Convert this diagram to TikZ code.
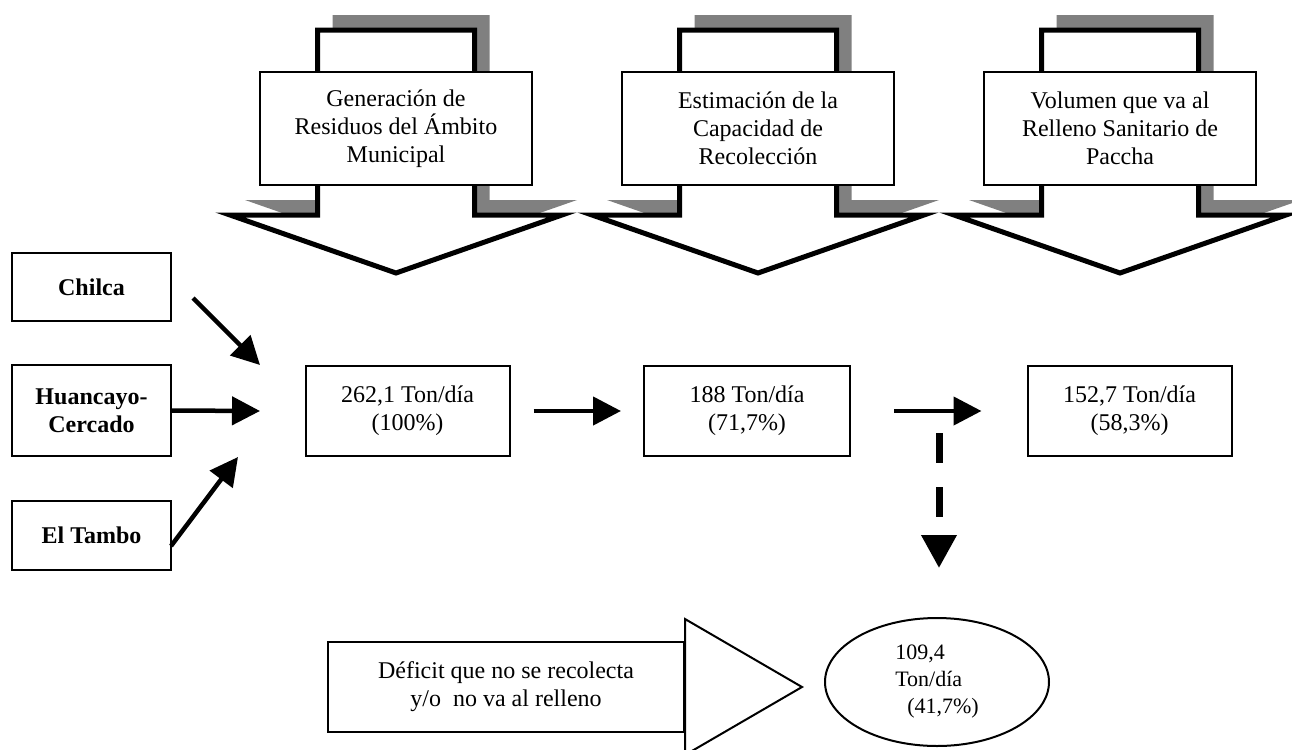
\documentclass[tikz,border=0pt]{standalone}
\usepackage{fontspec}
\setmainfont{Liberation Serif}
\usetikzlibrary{arrows.meta,shapes.geometric}
\definecolor{SombraGris}{rgb}{0.5,0.5,0.5}

\begin{document}
\begin{tikzpicture}[x=0.5pt,y=-0.5pt,font=\fontsize{12}{14}\selectfont,
  caja/.style={draw,line width=1pt,fill=white,align=center,inner sep=0pt},
  lugar/.style={caja,font=\fontsize{12}{14}\selectfont\bfseries,minimum width=79.5pt},
  valor/.style={caja,minimum width=102pt,minimum height=45pt},
  flecha/.style={line width=2.25pt,-{Triangle[length=14pt,width=14pt]}},
  flechadesc/.style={line width=3.5pt,dash pattern=on 15pt off 12pt,-{Triangle[length=16.5pt,width=17pt]}}]
\useasboundingbox (0,0) rectangle (1292,750);
\clip (0,0) rectangle (1292,750);
\def\grueso{2.5pt}
% flechas grandes con sombra
\foreach \cx/\nombre/\texto in {396/generacion/{Generación de\\Residuos del Ámbito\\Municipal},758/estimacion/{Estimación de la\\Capacidad de\\Recolección},1120/volumen/{Volumen que va al\\Relleno Sanitario de\\Paccha}} {
  \fill[SombraGris,shift={(15,-15)}] (\cx-78.5,215) -- (\cx-78.5,30) -- (\cx+78.5,30) -- (\cx+78.5,215) -- (\cx+166,215) -- (\cx,273) -- (\cx-166,215) -- cycle;
  \draw[line width=\grueso,fill=white] (\cx-78.5,215) -- (\cx-78.5,30) -- (\cx+78.5,30) -- (\cx+78.5,215) -- (\cx+166,215) -- (\cx,273) -- (\cx-166,215) -- cycle;
  \node[caja,minimum width=136pt,minimum height=56.5pt] (\nombre) at (\cx,128.5) {\texto};
}

\node[lugar,minimum height=34pt] (chilca) at (91.5,287) {Chilca};
\node[lugar,minimum height=45.5pt] (huancayo) at (91.5,410.5) {Huancayo-\\Cercado};
\node[lugar,minimum height=34.5pt] (tambo) at (91.5,535.5) {El Tambo};

\node[valor] (total) at (407.5,411) {262,1 Ton/día\\(100\%)};
\node[valor,minimum width=103pt] (recolectado) at (747,411) {188 Ton/día\\(71,7\%)};
\node[valor] (relleno) at (1129.5,411) {152,7 Ton/día\\(58,3\%)};

\coordinate (desdechilca) at (193,298);
\coordinate (llegachilca) at (260,365);
\coordinate (llegahuancayo) at (260,411);
\coordinate (desdetambo) at (171,546);
\coordinate (llegatambo) at (238,457);
\draw[flecha] (desdechilca) -- (llegachilca);
\draw[flecha] (huancayo.east) -- (llegahuancayo);
\draw[flecha] (desdetambo) -- (llegatambo);
\draw[flecha,shorten <=11.5pt,shorten >=11pt] (total) -- (recolectado);
\draw[flecha,shorten <=21.5pt,shorten >=22.5pt] (recolectado) -- (relleno);

\node[caja,minimum width=178pt,minimum height=45pt] (deficit) at (506,687) {Déficit que no se recolecta\\y/o\ \ no va al relleno};
\draw[line width=1pt,fill=white] (deficit.east) ++(0,-68) -- ++(117,68) -- ++(-117,68) -- cycle;
\node[draw,ellipse,line width=1pt,minimum width=112pt,minimum height=64pt,inner sep=0pt,align=left,font=\fontsize{11}{13.5}\selectfont] (faltante) at (937,682) {109,4\\Ton/día\\\hspace*{6pt}(41,7\%)};

\coordinate (desvio) at (939,433);
\draw[flechadesc,shorten >=24.5pt] (desvio) -- (desvio |- faltante.north);
\end{tikzpicture}
\end{document}
